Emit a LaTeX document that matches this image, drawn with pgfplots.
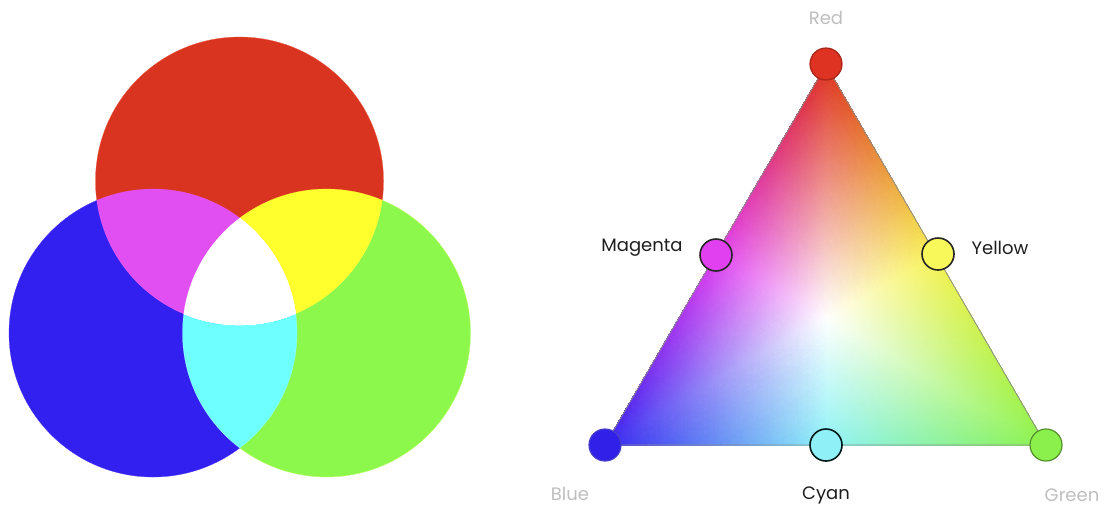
\documentclass[border=0pt]{standalone}
\usepackage{pgfplots}
\pgfplotsset{compat=1.18}
\usepackage{fontspec}
\setmainfont{Poppins}
\definecolor{cR}{RGB}{217,52,32}
\definecolor{cB}{RGB}{50,32,240}
\definecolor{cG}{RGB}{140,248,76}
\definecolor{tR}{RGB}{222,50,34}
\definecolor{tB}{RGB}{48,32,232}
\definecolor{tG}{RGB}{140,240,76}
\definecolor{tM}{RGB}{224,64,240}
\definecolor{tY}{RGB}{248,248,90}
\definecolor{tC}{RGB}{144,240,248}
\definecolor{lbl}{RGB}{190,190,190}
\definecolor{txt}{RGB}{30,30,30}
\begin{document}
\begin{tikzpicture}
\pgfplotsset{base/.style={scale only axis, width=556pt, height=255pt,
  xmin=0, xmax=1112, ymin=0, ymax=510, y dir=reverse, hide axis, clip=false,
  at={(0,0)}, anchor=south west}}
\path[use as bounding box] (0,0) rectangle (556pt,255pt);
\begin{scope}[blend group=screen]
\begin{axis}[base]
\addplot[only marks, mark=*, mark size=72pt, mark options={draw=cR, fill=cR, line width=0.1pt}] coordinates {(239.5,181)};
\addplot[only marks, mark=*, mark size=72pt, mark options={draw=cB, fill=cB, line width=0.1pt}, blend mode=screen] coordinates {(153,333)};
\addplot[only marks, mark=*, mark size=72pt, mark options={draw=cG, fill=cG, line width=0.1pt}, blend mode=color dodge] coordinates {(326.5,333)};
\end{axis}
\end{scope}
\begin{axis}[base]
\addplot[patch, patch type=triangle, shader=interp, mesh/color input=explicit] table[meta=c] {
x y c
826 65 rgb=0.87,0.2,0.13
715.5 255 rgb=0.88,0.25,0.94
825.7 318.3 rgb=1,1,1
826 65 rgb=0.87,0.2,0.13
936 255 rgb=0.97,0.95,0.33
825.7 318.3 rgb=1,1,1
605 445 rgb=0.22,0.15,0.94
715.5 255 rgb=0.88,0.25,0.94
825.7 318.3 rgb=1,1,1
605 445 rgb=0.22,0.15,0.94
825.5 445 rgb=0.56,0.95,0.97
825.7 318.3 rgb=1,1,1
1046 445 rgb=0.55,0.95,0.3
825.5 445 rgb=0.56,0.95,0.97
825.7 318.3 rgb=1,1,1
1046 445 rgb=0.55,0.95,0.3
936 255 rgb=0.97,0.95,0.33
825.7 318.3 rgb=1,1,1
};
\addplot[no marks, draw=black!45, line width=0.4pt] coordinates {(826,65) (1046,445) (605,445) (826,65)};
% vertex points
\addplot[only marks, mark=*, mark size=8pt, mark options={fill=tR, draw=tR!75!black, line width=0.6pt}] coordinates {(826,64)};
\addplot[only marks, mark=*, mark size=8pt, mark options={fill=tB, draw=tB!70!gray, line width=0.6pt}] coordinates {(605,445)};
\addplot[only marks, mark=*, mark size=8pt, mark options={fill=tG, draw=tG!60!black, line width=0.6pt}] coordinates {(1046,445)};
% midpoints
\addplot[only marks, mark=*, mark size=8pt, mark options={fill=tM, draw=black!85, line width=0.8pt}] coordinates {(716,255)};
\addplot[only marks, mark=*, mark size=8pt, mark options={fill=tY, draw=black!85, line width=0.8pt}] coordinates {(938,254)};
\addplot[only marks, mark=*, mark size=8pt, mark options={fill=tC, draw=black!80!teal, line width=0.8pt}] coordinates {(826,445)};
% labels
\node[text=lbl, font=\fontsize{9}{10}\selectfont] at (axis cs:826,18) {Red};
\node[text=lbl, font=\fontsize{9}{10}\selectfont] at (axis cs:570,494) {Blue};
\node[text=lbl, font=\fontsize{9}{10}\selectfont] at (axis cs:1072,495) {Green};
\node[text=txt, font=\fontsize{9}{10}\selectfont] at (axis cs:826,495) {Cyan};
\node[text=txt, font=\fontsize{9}{10}\selectfont] at (axis cs:642,248) {Magenta};
\node[text=txt, font=\fontsize{9}{10}\selectfont] at (axis cs:1000,248) {Yellow};
\end{axis}
\end{tikzpicture}
\end{document}
